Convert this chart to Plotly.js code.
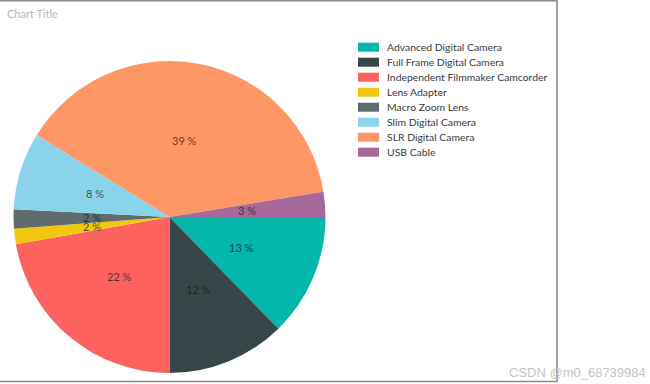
<!DOCTYPE html>
<html>
<head>
<meta charset="utf-8">
<script src="https://cdn.plot.ly/plotly-3.0.1.min.js"></script>
<style>html,body{margin:0;padding:0;background:#fff;}#chart{width:650px;height:384px;}</style>
</head>
<body>
<div id="chart"></div>
<script>
const categories = ["Advanced Digital Camera","Full Frame Digital Camera","Independent Filmmaker Camcorder","Lens Adapter","Macro Zoom Lens","Slim Digital Camera","SLR Digital Camera","USB Cable"];
const shares = [12.7, 12.3, 22.2, 1.6, 2.0, 8.0, 38.6, 2.6];
const colors = ["#01B8AA","#374649","#FD625E","#F2C80F","#5F6B6D","#8AD4EB","#FE9666","#A66999"];

const W = 650, H = 384;
const cx = 169.5, cy = 217, R = 156;
const total = shares.reduce((a,b)=>a+b,0);
const labelText = shares.map(v => Math.round(v/total*100) + " %");

const annotations = [];
const shapes = [];
let cum = 0;
shares.forEach((v,i) => {
  const mid = (cum + v/2)/total * 2*Math.PI;
  cum += v;
  const px = cx + 0.5*R*Math.cos(mid);
  const py = cy + 0.5*R*Math.sin(mid);
  annotations.push({x: px/W, y: 1-py/H, xref:'paper', yref:'paper', text: labelText[i], showarrow:false,
    xanchor:'center', yanchor:'middle', font:{family:'Lato, "Open Sans", sans-serif', size:11, color:'rgba(20,20,20,0.72)'}});
});
// custom legend
categories.forEach((c,i) => {
  const yc = 47.2 + 15*i;
  shapes.push({type:'rect', xref:'paper', yref:'paper', x0:358/W, x1:379/W, y0:1-(yc+4.5)/H, y1:1-(yc-4.5)/H,
    fillcolor: colors[i], line:{width:0}});
  annotations.push({x:385/W, y:1-yc/H, xref:'paper', yref:'paper', text:c, showarrow:false, xanchor:'left', yanchor:'middle',
    font:{family:'Lato, "Open Sans", sans-serif', size:10.4, color:'#3a3a3a'}});
});
// frame
shapes.push({type:'rect', xref:'paper', yref:'paper', x0:-0.01, x1:557/W, y0:1-381.5/H, y1:1-0.8/H, line:{color:'#8c8c8c', width:1.6}, fillcolor:'rgba(0,0,0,0)'});
annotations.push({x:648/W, y:1-372/H, xref:'paper', yref:'paper', text:'CSDN @m0_68739984', showarrow:false, xanchor:'right', yanchor:'middle',
  font:{family:'"Liberation Sans", Arial, sans-serif', size:13, color:'#c4c4c4'}});

const data = [{
  type:'pie', labels: categories, values: shares, sort:false, direction:'clockwise', rotation:90,
  marker:{colors: colors, line:{width:0}}, textinfo:'none', hoverinfo:'skip', showlegend:false,
  domain:{x:[(cx-R)/W,(cx+R)/W], y:[(H-cy-R)/H,(H-cy+R)/H]}
}];
const layout = {
  width:W, height:H, margin:{l:0,r:0,t:0,b:0}, paper_bgcolor:'#fff', showlegend:false,
  title:{text:'Chart Title', x:7/W, xanchor:'left', xref:'paper', y:1-14/H, yanchor:'middle', yref:'paper',
    font:{family:'Lato, "Open Sans", sans-serif', size:11, color:'#b8b8b8'}},
  annotations: annotations, shapes: shapes
};
Plotly.newPlot('chart', data, layout, {displayModeBar:false, staticPlot:true});
</script>
</body>
</html>
